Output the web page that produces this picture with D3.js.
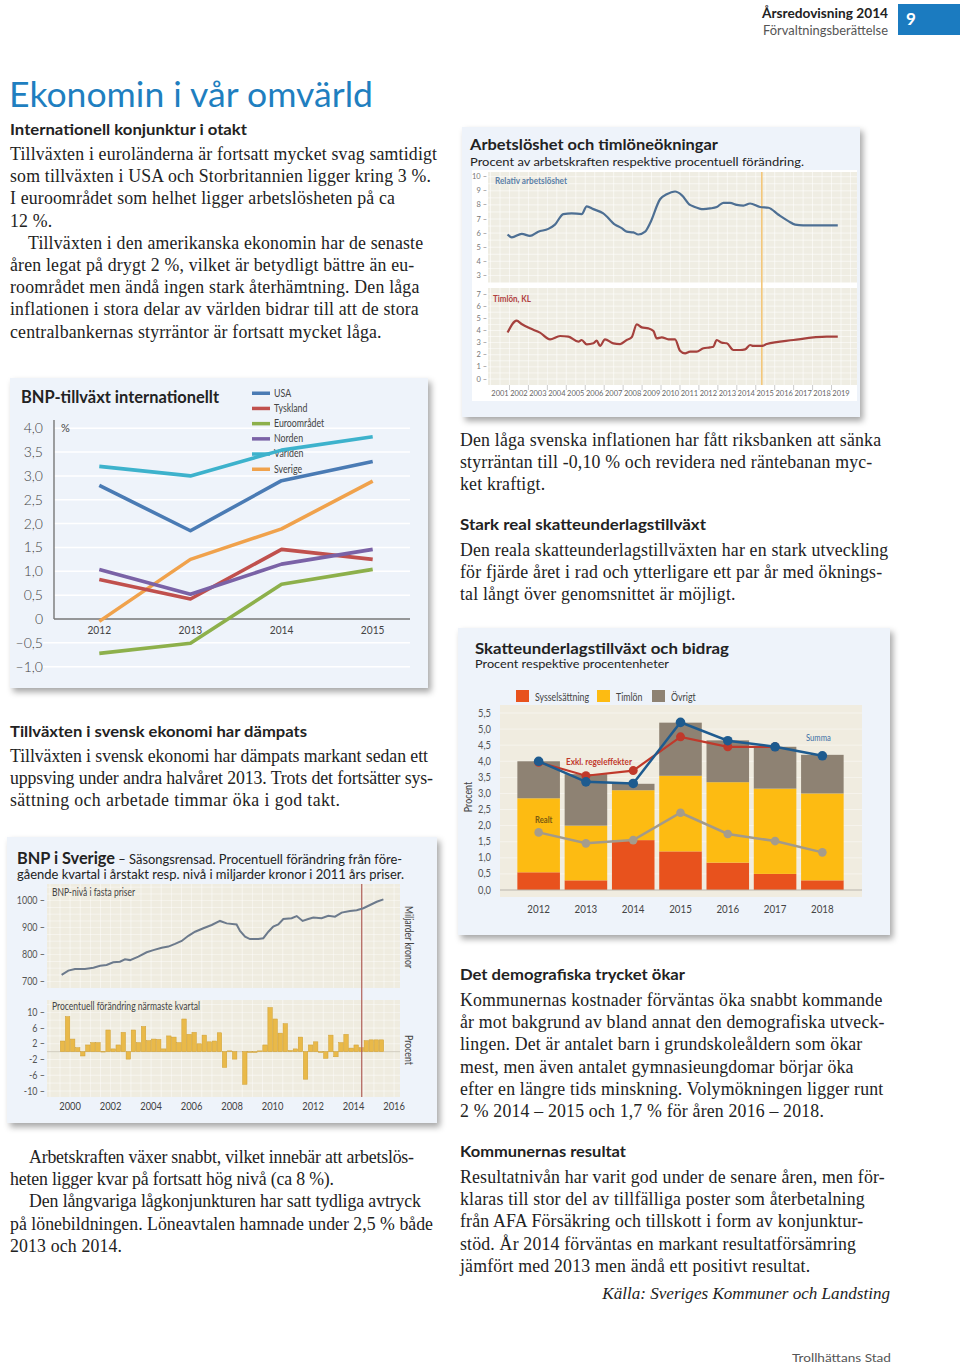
<!DOCTYPE html>
<html><head><meta charset="utf-8">
<script src="https://cdn.jsdelivr.net/npm/d3@7"></script>
<style>body{margin:0;background:#fff}svg{display:block}</style>
</head><body><svg id="page" width="960" height="1364"></svg>
<script>
// ---------------- DATA ----------------
// BNP-tillväxt internationellt
const bnpYears = [2012, 2013, 2014, 2015];
const bnpNames = ["USA", "Tyskland", "Euroområdet", "Norden", "Världen", "Sverige"];
const bnpUSA = [2.8, 1.85, 2.9, 3.3];
const bnpTyskland = [0.83, 0.42, 1.46, 1.25];
const bnpEuro = [-0.72, -0.51, 0.73, 1.04];
const bnpNorden = [1.04, 0.52, 1.15, 1.46];
const bnpVarlden = [3.2, 3.0, 3.54, 3.82];
const bnpSverige = [-0.05, 1.25, 1.89, 2.89];
const bnpTicks = [4.0, 3.5, 3.0, 2.5, 2.0, 1.5, 1.0, 0.5, 0, -0.5, -1.0];

// Arbetslöshet och timlöneökningar
const axisYears = d3.range(2001, 2020);
const unempYears = [2001.4,2001.62,2002.15,2002.58,2003.02,2003.55,2003.9,2004.34,2004.78,2005.31,2005.58,2005.93,2006.45,2007.07,2007.42,2007.69,2008.04,2008.3,2008.66,2008.92,2009.45,2009.8,2010.24,2010.59,2011.03,2011.2,2011.73,2012.09,2012.44,2012.79,2013.14,2013.5,2013.85,2014.2,2014.73,2015.17,2015.7,2016.22,2016.58,2017.0,2018.83];
const unempValues = [5.9,5.7,5.95,5.8,6.1,6.3,6.6,7.35,7.4,7.35,7.9,7.7,7.4,6.6,6.35,6.1,6.05,5.9,6.1,6.7,8.4,8.75,8.95,8.7,8.0,7.9,7.7,7.75,7.85,8.15,8.15,8.0,7.95,8.1,7.85,7.8,7.3,6.85,6.6,6.55,6.55];
const wageYears = [2001.4,2001.88,2002.14,2002.58,2003.11,2003.64,2004.17,2004.61,2005.14,2005.31,2005.58,2005.93,2006.1,2006.28,2006.54,2006.98,2007.34,2007.69,2007.95,2008.22,2008.48,2008.83,2009.1,2009.27,2009.54,2009.89,2010.24,2010.5,2010.77,2011.03,2011.38,2011.74,2012.09,2012.26,2012.44,2012.7,2012.97,2013.32,2013.67,2013.94,2014.2,2014.37,2014.82,2015.08,2016.49,2018.25,2018.83];
const wageValues = [3.82,4.8,4.53,4.17,3.82,3.27,3.54,3.49,3.07,3.21,2.85,2.94,3.16,2.72,3.27,2.94,2.88,3.21,3.43,4.5,4.25,4.17,3.95,3.35,3.43,3.27,3.27,2.33,2.11,2.25,2.25,2.53,2.6,2.66,3.21,2.99,2.94,2.39,2.39,2.44,2.8,2.72,2.72,2.88,3.21,3.49,3.49];
const unempTicks = [10, 9, 8, 7, 6, 5, 4, 3];
const wageTicks = [7, 6, 5, 4, 3, 2, 1, 0];
const forecastYear = 2014.82;

// Skatteunderlagstillväxt och bidrag
const skYears = [2012, 2013, 2014, 2015, 2016, 2017, 2018];
const skSyss = [0.55, 0.3, 1.55, 1.2, 0.85, 0.5, 0.3];
const skTimlon = [2.3, 1.7, 1.55, 2.35, 2.5, 2.65, 2.7];
const skOvrigt = [1.15, 1.6, 0.2, 1.65, 1.3, 1.3, 1.2];
const skSumma = [4.0, 3.36, 3.31, 5.21, 4.64, 4.45, 4.17];
const skExklYears = [2012, 2013, 2014, 2015, 2016, 2017];
const skExkl = [3.97, 3.55, 3.71, 4.76, 4.45, 4.45];
const skRealt = [1.79, 1.45, 1.55, 2.4, 1.74, 1.52, 1.17];
const skTicks = [5.5, 5.0, 4.5, 4.0, 3.5, 3.0, 2.5, 2.0, 1.5, 1.0, 0.5, 0.0];
const skLegend = ["Sysselsättning", "Timlön", "Övrigt"];

// BNP i Sverige
const levelYears = [2000.08,2000.41,2000.74,2001.23,2001.65,2001.98,2002.3,2002.63,2002.96,2003.21,2003.46,2003.87,2004.28,2004.61,2005.02,2005.35,2005.68,2006.01,2006.34,2006.67,2007.08,2007.49,2007.9,2008.23,2008.72,2008.89,2009.14,2009.38,2009.79,2010.04,2010.29,2010.53,2010.78,2011.03,2011.44,2011.69,2011.98,2012.26,2012.51,2012.92,2013.25,2013.58,2013.91,2014.32,2014.65,2014.98,2015.31,2015.64,2015.97];
const levelValues = [725,741,747,747,752,759,762,772,774,783,780,793,809,817,826,830,840,851,870,885,898,910,925,916,912,888,867,858,858,861,885,904,912,932,935,943,925,932,938,935,944,941,956,962,965,972,984,996,1005];
const growthStart = 2000;
const growthValues = [2.7,8.9,3.2,1.0,-1.1,1.7,2.3,2.3,-0.1,5.5,0.7,1.7,4.9,-1.9,5.5,2.3,6.4,2.8,3.2,3.1,0.7,4.0,3.7,2.3,8.3,4.4,4.9,2.0,4.2,2.5,2.7,4.8,-4.0,0.2,-1.9,0.0,-8.3,-0.2,-0.2,0.2,1.7,11.2,8.3,4.7,7.1,0.3,0.7,3.7,-7.0,1.7,2.5,-0.2,-1.7,4.2,-1.3,2.3,4.4,0.9,1.7,1.0,2.8,3.0,3.0,3.0];
const levelTicks = [1000, 900, 800, 700];
const growthTicks = [10, 6, 2, -2, -6, -10];
const sweYearTicks = [2000, 2002, 2004, 2006, 2008, 2010, 2012, 2014, 2016];
const sweMarker = 2014.9;

// ---------------- SETUP ----------------
const SANS = "Lato, 'Noto Sans', 'DejaVu Sans', sans-serif";
const SERIF = "'Liberation Serif', 'DejaVu Serif', serif";
const COND = "Lato, 'DejaVu Sans', sans-serif";
const BOXBG = "#eef3fa";
const svg = d3.select("#page");
const defs = svg.append("defs");
const flt = defs.append("filter").attr("id", "shadow").attr("x", "-5%").attr("y", "-5%").attr("width", "115%").attr("height", "115%");
flt.append("feDropShadow").attr("dx", 3).attr("dy", 4).attr("stdDeviation", 3).attr("flood-color", "#000").attr("flood-opacity", 0.35);
const fmtC = d => (d === 0 ? "0" : d3.format(".1f")(Math.abs(d)).replace(".", ","));
const fmtSigned = d => d < 0 ? "–" + fmtC(d) : fmtC(d);

function squeeze(sel, k) {
  sel.each(function () {
    const L = this.getComputedTextLength();
    if (L > 0) d3.select(this).attr("textLength", L * k).attr("lengthAdjust", "spacingAndGlyphs");
  });
  return sel;
}
function txt(g, x, y, s, o = {}) {
  const t = g.append("text").attr("x", x).attr("y", y).text(s)
    .attr("font-family", o.family || SANS).attr("font-size", o.size || 12)
    .attr("font-weight", o.weight || "normal").attr("fill", o.fill || "#222")
    .attr("font-style", o.style || "normal")
    .attr("text-anchor", o.anchor || "start");
  if (o.ls) t.attr("letter-spacing", o.ls);
  if (o.w) t.attr("textLength", o.w).attr("lengthAdjust", "spacingAndGlyphs");
  if (o.k) squeeze(t, o.k);
  return t;
}

// ---------------- HEADER ----------------
txt(svg, 762, 18, "Årsredovisning 2014", {size: 12.5, weight: "bold", fill: "#222", w: 126});
txt(svg, 763, 35, "Förvaltningsberättelse", {size: 12.5, fill: "#555", w: 125});
svg.append("rect").attr("x", 898).attr("y", 4).attr("width", 62).attr("height", 31).attr("fill", "#1b7bc0");
txt(svg, 906, 25, "9", {size: 17, weight: "bold", fill: "#fff"});
txt(svg, 9, 107, "Ekonomin i vår omvärld", {size: 34, fill: "#1f7fc0", w: 364});
txt(svg, 792, 1362, "Trollhättans Stad", {size: 12, fill: "#555", w: 99});

// ---------------- BODY TEXT ----------------
const heads = [
  {x: 10, y: 135, s: "Internationell konjunktur i otakt", w: 237},
  {x: 10, y: 737, s: "Tillväxten i svensk ekonomi har dämpats", w: 297},
  {x: 460, y: 530, s: "Stark real skatteunderlagstillväxt", w: 246},
  {x: 460, y: 980, s: "Det demografiska trycket ökar", w: 225},
  {x: 460, y: 1157, s: "Kommunernas resultat", w: 166}
];
heads.forEach(h => txt(svg, h.x, h.y, h.s, {size: 15, weight: "bold", fill: "#222", w: h.w}));

const paras = [
  {x: 10, y: 160, lines: ["Tillväxten i euroländerna är fortsatt mycket svag samtidigt", "som tillväxten i USA och Storbritannien ligger kring 3 %.", "I euroområdet som helhet ligger arbetslösheten på ca", "12 %.", "\u2003Tillväxten i den amerikanska ekonomin har de senaste", "åren legat på drygt 2 %, vilket är betydligt bättre än eu-", "roområdet men ändå ingen stark återhämtning. Den låga", "inflationen i stora delar av världen bidrar till att de stora", "centralbankernas styrräntor är fortsatt mycket låga."]},
  {x: 10, y: 762, ends: [428, 433, 340], lines: ["Tillväxten i svensk ekonomi har dämpats markant sedan ett", "uppsving under andra halvåret 2013. Trots det fortsätter sys-", "sättning och arbetade timmar öka i god takt."]},
  {x: 10, y: 1163, ends: [414, 334, 421, 433, 122], lines: ["\u2003Arbetskraften växer snabbt, vilket innebär att arbetslös-", "heten ligger kvar på fortsatt hög nivå (ca 8 %).", "\u2003Den långvariga lågkonjunkturen har satt tydliga avtryck", "på lönebildningen. Löneavtalen hamnade under 2,5 % både", "2013 och 2014."]},
  {x: 460, y: 446, lines: ["Den låga svenska inflationen har fått riksbanken att sänka", "styrräntan till -0,10 % och revidera ned räntebanan myc-", "ket kraftigt."]},
  {x: 460, y: 556, lines: ["Den reala skatteunderlagstillväxten har en stark utveckling", "för fjärde året i rad och ytterligare ett par år med öknings-", "tal långt över genomsnittet är möjligt."]},
  {x: 460, y: 1006, lines: ["Kommunernas kostnader förväntas öka snabbt kommande", "år mot bakgrund av bland annat den demografiska utveck-", "lingen. Det är antalet barn i grundskoleåldern som ökar", "mest, men även antalet gymnasieungdomar börjar öka", "efter en längre tids minskning. Volymökningen ligger runt", "2 % 2014 – 2015 och 1,7 % för åren 2016 – 2018."]},
  {x: 460, y: 1183, lines: ["Resultatnivån har varit god under de senare åren, men för-", "klaras till stor del av tillfälliga poster som återbetalning", "från AFA Försäkring och tillskott i form av konjunktur-", "stöd. År 2014 förväntas en markant resultatförsämring", "jämfört med 2013 men ändå ett positivt resultat."]}
];
paras.forEach(p => p.lines.forEach((l, i) => {
  const t = txt(svg, p.x, p.y + i * 22.2, l, {family: SERIF, size: 17.8, fill: "#222", ls: 0.18}).attr("xml:space", "preserve");
  if (p.ends) {
    const indent = l.startsWith("\u2003") ? 19 : 0;
    t.text(l.replace("\u2003", "")).attr("x", p.x + indent).attr("letter-spacing", null)
      .attr("textLength", p.ends[i] - p.x - indent).attr("lengthAdjust", "spacing");
  }
}));
txt(svg, 890, 1299, "Källa: Sveriges Kommuner och Landsting", {family: SERIF, size: 17.1, style: "italic", anchor: "end"});

// ---------------- CHART: Arbetslöshet ----------------
(function () {
  const g = svg.append("g");
  g.append("rect").attr("x", 462).attr("y", 127).attr("width", 398).attr("height", 290).attr("fill", BOXBG).attr("filter", "url(#shadow)");
  txt(g, 470, 150, "Arbetslöshet och timlöneökningar", {size: 15.5, weight: "bold", fill: "#222", w: 248});
  txt(g, 470, 166, "Procent av arbetskraften respektive procentuell förändring.", {size: 12, fill: "#222", w: 334});
  g.append("rect").attr("x", 472).attr("y", 170).attr("width", 385).attr("height", 231).attr("fill", "#fff");
  const x = d3.scaleLinear().domain([2001, 2019]).range([500, 841]);
  const yT = d3.scaleLinear().domain([3, 10]).range([275.4, 176.7]);
  const yB = d3.scaleLinear().domain([0, 7]).range([379, 294]);
  const panels = [{y: yT, top: 172, bot: 283, ticks: unempTicks}, {y: yB, top: 288, bot: 385, ticks: wageTicks}];
  panels.forEach(p => {
    g.append("rect").attr("x", 488).attr("y", p.top).attr("width", 369).attr("height", p.bot - p.top).attr("fill", "#efede3");
    const gx = d3.range(2000.5, 2019.6, 0.5).filter(v => x(v) > 489 && x(v) < 856);
    g.selectAll(null).data(gx).join("line").attr("x1", d => x(d)).attr("x2", d => x(d)).attr("y1", p.top).attr("y2", p.bot).attr("stroke", "#fff").attr("stroke-width", 0.7).attr("opacity", 0.8);
    const gy = d3.range(p.y.domain()[0] - 1, p.y.domain()[1] + 1.01, 0.5).filter(v => p.y(v) > p.top && p.y(v) < p.bot);
    g.selectAll(null).data(gy).join("line").attr("x1", 488).attr("x2", 857).attr("y1", d => p.y(d)).attr("y2", d => p.y(d)).attr("stroke", "#fff").attr("stroke-width", 0.7).attr("opacity", 0.8);
    g.selectAll(null).data(p.ticks).join("text").attr("x", 487).attr("y", d => p.y(d) + 2.5).attr("text-anchor", "end")
      .attr("font-family", COND).attr("font-size", 7.5).attr("fill", "#777").text(d => d + " –");
  });
  g.append("line").attr("x1", x(forecastYear)).attr("x2", x(forecastYear)).attr("y1", 172).attr("y2", 385).attr("stroke", "#f3c77a").attr("stroke-width", 1.6);
  g.selectAll(null).data(axisYears).join("text").attr("x", d => x(d)).attr("y", 396).attr("text-anchor", "middle")
    .attr("font-family", COND).attr("font-size", 7.5).attr("fill", "#666").text(d => d);
  g.selectAll(null).data(axisYears.slice(0, -1)).join("line").attr("x1", d => x(d + 0.5)).attr("x2", d => x(d + 0.5)).attr("y1", 385).attr("y2", 390).attr("stroke", "#aaa").attr("stroke-width", 0.6);
  const lT = d3.line().x((d, i) => x(unempYears[i])).y(d => yT(d)).curve(d3.curveMonotoneX);
  const lB = d3.line().x((d, i) => x(wageYears[i])).y(d => yB(d)).curve(d3.curveMonotoneX);
  g.append("path").attr("d", lT(unempValues)).attr("fill", "none").attr("stroke", "#4d6f93").attr("stroke-width", 2.2);
  g.append("path").attr("d", lB(wageValues)).attr("fill", "none").attr("stroke", "#a5413d").attr("stroke-width", 2.2);
  txt(g, 495, 184, "Relativ arbetslöshet", {family: COND, size: 8.5, weight: "bold", fill: "#5b80a8", w: 72});
  txt(g, 493, 302, "Timlön, KL", {family: COND, size: 8.5, weight: "bold", fill: "#b0413e", w: 38});
})();

// ---------------- CHART: BNP-tillväxt internationellt ----------------
(function () {
  const g = svg.append("g");
  g.append("rect").attr("x", 10).attr("y", 378).attr("width", 418).attr("height", 310).attr("fill", BOXBG).attr("filter", "url(#shadow)");
  txt(g, 21, 403, "BNP-tillväxt internationellt", {size: 16.5, weight: "bold", fill: "#222", w: 198});
  const x = d3.scaleLinear().domain([2012, 2015]).range([99.3, 372.7]);
  const y = d3.scaleLinear().domain([-1, 4]).range([666.7, 428.2]);
  g.selectAll(null).data(bnpTicks.filter(d => d !== 0)).join("line")
    .attr("x1", d => d < 0 ? 43 : 54).attr("x2", 410).attr("y1", d => y(d)).attr("y2", d => y(d)).attr("stroke", "#fff").attr("stroke-width", 1.5);
  g.selectAll(null).data(bnpTicks).join("text").attr("x", 43).attr("y", d => y(d) + 5).attr("text-anchor", "end")
    .attr("font-family", SANS).attr("font-size", 14).attr("fill", "#444").attr("font-weight", 300).text(fmtSigned);
  g.append("line").attr("x1", 54).attr("x2", 54).attr("y1", 420).attr("y2", y(0)).attr("stroke", "#777").attr("stroke-width", 1.4);
  g.append("line").attr("x1", 54).attr("x2", 410).attr("y1", y(0)).attr("y2", y(0)).attr("stroke", "#777").attr("stroke-width", 1.4);
  txt(g, 61, 432, "%", {family: COND, size: 11, fill: "#444"});
  squeeze(g.selectAll(null).data(bnpYears).join("text").attr("x", d => x(d)).attr("y", 634).attr("text-anchor", "middle")
    .attr("font-family", COND).attr("font-size", 12).attr("fill", "#444").text(d => d), 0.85);
  const colors = ["#4a7bb4", "#c0504d", "#8db04b", "#7a62a6", "#3db2cc", "#f0a24c"];
  const series = [bnpUSA, bnpTyskland, bnpEuro, bnpNorden, bnpVarlden, bnpSverige];
  const lg = g.append("g");
  bnpNames.forEach((n, i) => {
    lg.append("rect").attr("x", 252).attr("y", 391.5 + i * 15.2).attr("width", 18).attr("height", 3.5).attr("fill", colors[i]);
    txt(lg, 274, 396.5 + i * 15.2, n, {family: COND, size: 11, fill: "#444", k: 0.8});
  });
  const line = d3.line().x((d, i) => x(bnpYears[i])).y(d => y(d));
  [4, 0, 5, 1, 3, 2].forEach(i => {
    g.append("path").attr("d", line(series[i])).attr("fill", "none").attr("stroke", colors[i]).attr("stroke-width", 3.6).attr("stroke-linejoin", "round");
  });
})();

// ---------------- CHART: Skatteunderlag ----------------
(function () {
  const g = svg.append("g");
  g.append("rect").attr("x", 458).attr("y", 628).attr("width", 432).attr("height", 307).attr("fill", BOXBG).attr("filter", "url(#shadow)");
  txt(g, 475, 654, "Skatteunderlagstillväxt och bidrag", {size: 16, weight: "bold", fill: "#222", w: 254});
  txt(g, 475, 668, "Procent respektive procentenheter", {size: 12, fill: "#222", w: 194});
  g.append("rect").attr("x", 500).attr("y", 705).attr("width", 362).attr("height", 192).attr("fill", "#f0ece0");
  const x = d3.scaleBand().domain(skYears).range([515, 846]).paddingInner(0.1).paddingOuter(0.05);
  const y = d3.scaleLinear().domain([0, 5.5]).range([890, 713]);
  g.selectAll(null).data(skTicks).join("line").attr("x1", 500).attr("x2", 862).attr("y1", d => y(d)).attr("y2", d => y(d)).attr("stroke", "#fff").attr("stroke-width", 0.6).attr("opacity", 0.7);
  squeeze(g.selectAll(null).data(skTicks).join("text").attr("x", 491).attr("y", d => y(d) + 3.5).attr("text-anchor", "end")
    .attr("font-family", COND).attr("font-size", 11).attr("fill", "#555").text(d => d3.format(".1f")(d).replace(".", ",")), 0.85);
  const colors = ["#e8521d", "#fdbb12", "#8e8273"];
  const stackData = skYears.map((yr, i) => ({year: yr, s: skSyss[i], t: skTimlon[i], o: skOvrigt[i]}));
  const stacked = d3.stack().keys(["s", "t", "o"])(stackData);
  stacked.forEach((layer, k) => {
    g.selectAll(null).data(layer).join("rect").attr("x", d => x(d.data.year)).attr("width", x.bandwidth())
      .attr("y", d => y(d[1])).attr("height", d => y(d[0]) - y(d[1])).attr("fill", colors[k]);
  });
  g.append("line").attr("x1", 500).attr("x2", 862).attr("y1", y(0)).attr("y2", y(0)).attr("stroke", "#b5b0a5").attr("stroke-width", 1);
  skLegend.forEach((n, i) => {
    const lx = [516, 597, 652][i];
    g.append("rect").attr("x", lx).attr("y", 690).attr("width", 13).attr("height", 12).attr("fill", colors[i]);
    txt(g, lx + 19, 701, n, {family: COND, size: 11, fill: "#444", k: 0.8});
  });
  const cx = d => x(d) + x.bandwidth() / 2;
  const lR = d3.line().x((d, i) => cx(skYears[i])).y(d => y(d));
  g.append("path").attr("d", lR(skRealt)).attr("fill", "none").attr("stroke", "#a39a8a").attr("stroke-width", 2.5);
  g.selectAll(null).data(skRealt).join("circle").attr("cx", (d, i) => cx(skYears[i])).attr("cy", d => y(d)).attr("r", 4.3).attr("fill", "#a59c8c");
  const lE = d3.line().x((d, i) => cx(skExklYears[i])).y(d => y(d));
  g.append("path").attr("d", lE(skExkl)).attr("fill", "none").attr("stroke", "#c0392b").attr("stroke-width", 2.2);
  g.selectAll(null).data(skExkl).join("circle").attr("cx", (d, i) => cx(skExklYears[i])).attr("cy", d => y(d)).attr("r", 4.5).attr("fill", "#c0392b");
  g.append("path").attr("d", lR(skSumma)).attr("fill", "none").attr("stroke", "#1e5b8f").attr("stroke-width", 2.5);
  g.selectAll(null).data(skSumma).join("circle").attr("cx", (d, i) => cx(skYears[i])).attr("cy", d => y(d)).attr("r", 4.8).attr("fill", "#1e5b8f");
  txt(g, 566, 765, "Exkl. regeleffekter", {family: COND, size: 9, weight: "bold", fill: "#c0392b", w: 66});
  txt(g, 806, 741, "Summa", {family: COND, size: 9, fill: "#3c6fa6", k: 0.85});
  txt(g, 535, 823, "Realt", {family: COND, size: 9, weight: "bold", fill: "#7a5a10", k: 0.85});
  squeeze(g.selectAll(null).data(skYears).join("text").attr("x", d => cx(d)).attr("y", 913).attr("text-anchor", "middle")
    .attr("font-family", COND).attr("font-size", 11.5).attr("fill", "#444").text(d => d), 0.85);
  txt(g, 0, 0, "Procent", {family: COND, size: 10.5, fill: "#444", anchor: "middle", k: 0.85}).attr("transform", "translate(472,797) rotate(-90)");
})();

// ---------------- CHART: BNP i Sverige ----------------
(function () {
  const g = svg.append("g");
  g.append("rect").attr("x", 7).attr("y", 837).attr("width", 430).attr("height", 286).attr("fill", BOXBG).attr("filter", "url(#shadow)");
  const t = g.append("text").attr("x", 17).attr("y", 864).attr("font-family", SANS).attr("fill", "#222");
  t.append("tspan").attr("font-size", 17).attr("font-weight", "bold").text("BNP i Sverige").attr("textLength", 98).attr("lengthAdjust", "spacingAndGlyphs");
  t.append("tspan").attr("font-size", 12.5).text(" – Säsongsrensad. Procentuell förändring från före-").attr("textLength", 287).attr("lengthAdjust", "spacingAndGlyphs");
  txt(g, 17, 879, "gående kvartal i årstakt resp. nivå i miljarder kronor i 2011 års priser.", {size: 12.5, fill: "#222", w: 387});
  const x = d3.scaleLinear().domain([2000, 2016]).range([60, 384]);
  const yL = d3.scaleLinear().domain([700, 1000]).range([981.7, 900.7]);
  const yG = d3.scaleLinear().domain([-10, 10]).range([1091, 1012.3]);
  const panels = [{y: yL, top: 884, bot: 988, ticks: levelTicks, step: 25}, {y: yG, top: 1000, bot: 1097, ticks: growthTicks, step: 2}];
  panels.forEach(p => {
    g.append("rect").attr("x", 47).attr("y", p.top).attr("width", 353).attr("height", p.bot - p.top).attr("fill", "#efece0");
    const gx = d3.range(1999.5, 2017, 0.5).filter(v => x(v) > 48 && x(v) < 399);
    g.selectAll(null).data(gx).join("line").attr("x1", d => x(d)).attr("x2", d => x(d)).attr("y1", p.top).attr("y2", p.bot).attr("stroke", "#fff").attr("stroke-width", 0.6).attr("opacity", 0.75);
    const d0 = p.y.domain();
    const gy = d3.range(d0[0] - 4 * p.step, d0[1] + 4 * p.step, p.step).filter(v => p.y(v) > p.top && p.y(v) < p.bot);
    g.selectAll(null).data(gy).join("line").attr("x1", 47).attr("x2", 400).attr("y1", d => p.y(d)).attr("y2", d => p.y(d)).attr("stroke", "#fff").attr("stroke-width", 0.6).attr("opacity", 0.75);
    squeeze(g.selectAll(null).data(p.ticks).join("text").attr("x", 45).attr("y", d => p.y(d) + 3.5).attr("text-anchor", "end")
      .attr("font-family", COND).attr("font-size", 10.5).attr("fill", "#555").text(d => d + " –"), 0.85);
  });
  g.append("line").attr("x1", 47).attr("x2", 400).attr("y1", yG(0)).attr("y2", yG(0)).attr("stroke", "#c8c2b4").attr("stroke-width", 0.8);
  const bw = x(2000.25) - x(2000);
  g.selectAll(null).data(growthValues).join("rect")
    .attr("x", (d, i) => x(growthStart + i * 0.25) + 0.3).attr("width", bw - 0.6)
    .attr("y", d => yG(Math.max(0, d))).attr("height", d => Math.abs(yG(d) - yG(0)))
    .attr("fill", "#e9b949").attr("stroke", "#cf9f32").attr("stroke-width", 0.5);
  g.append("line").attr("x1", x(sweMarker)).attr("x2", x(sweMarker)).attr("y1", 884).attr("y2", 1097).attr("stroke", "#b0605a").attr("stroke-width", 1.2);
  const lL = d3.line().x((d, i) => x(levelYears[i])).y(d => yL(d));
  g.append("path").attr("d", lL(levelValues)).attr("fill", "none").attr("stroke", "#6c7a8c").attr("stroke-width", 2);
  txt(g, 52, 896, "BNP-nivå i fasta priser", {family: COND, size: 10.5, fill: "#444", w: 83});
  txt(g, 52, 1010, "Procentuell förändring närmaste kvartal", {family: COND, size: 10.5, fill: "#444", w: 148});
  squeeze(g.selectAll(null).data(sweYearTicks).join("text").attr("x", d => x(d + 0.5)).attr("y", 1110).attr("text-anchor", "middle")
    .attr("font-family", COND).attr("font-size", 11).attr("fill", "#444").text(d => d), 0.85);
  txt(g, 0, 0, "Miljarder kronor", {family: COND, size: 11, fill: "#444", anchor: "middle", k: 0.8}).attr("transform", "translate(405,937) rotate(90)");
  txt(g, 0, 0, "Procent", {family: COND, size: 11, fill: "#444", anchor: "middle", k: 0.8}).attr("transform", "translate(405,1050) rotate(90)");
})();
</script>
</body></html>
